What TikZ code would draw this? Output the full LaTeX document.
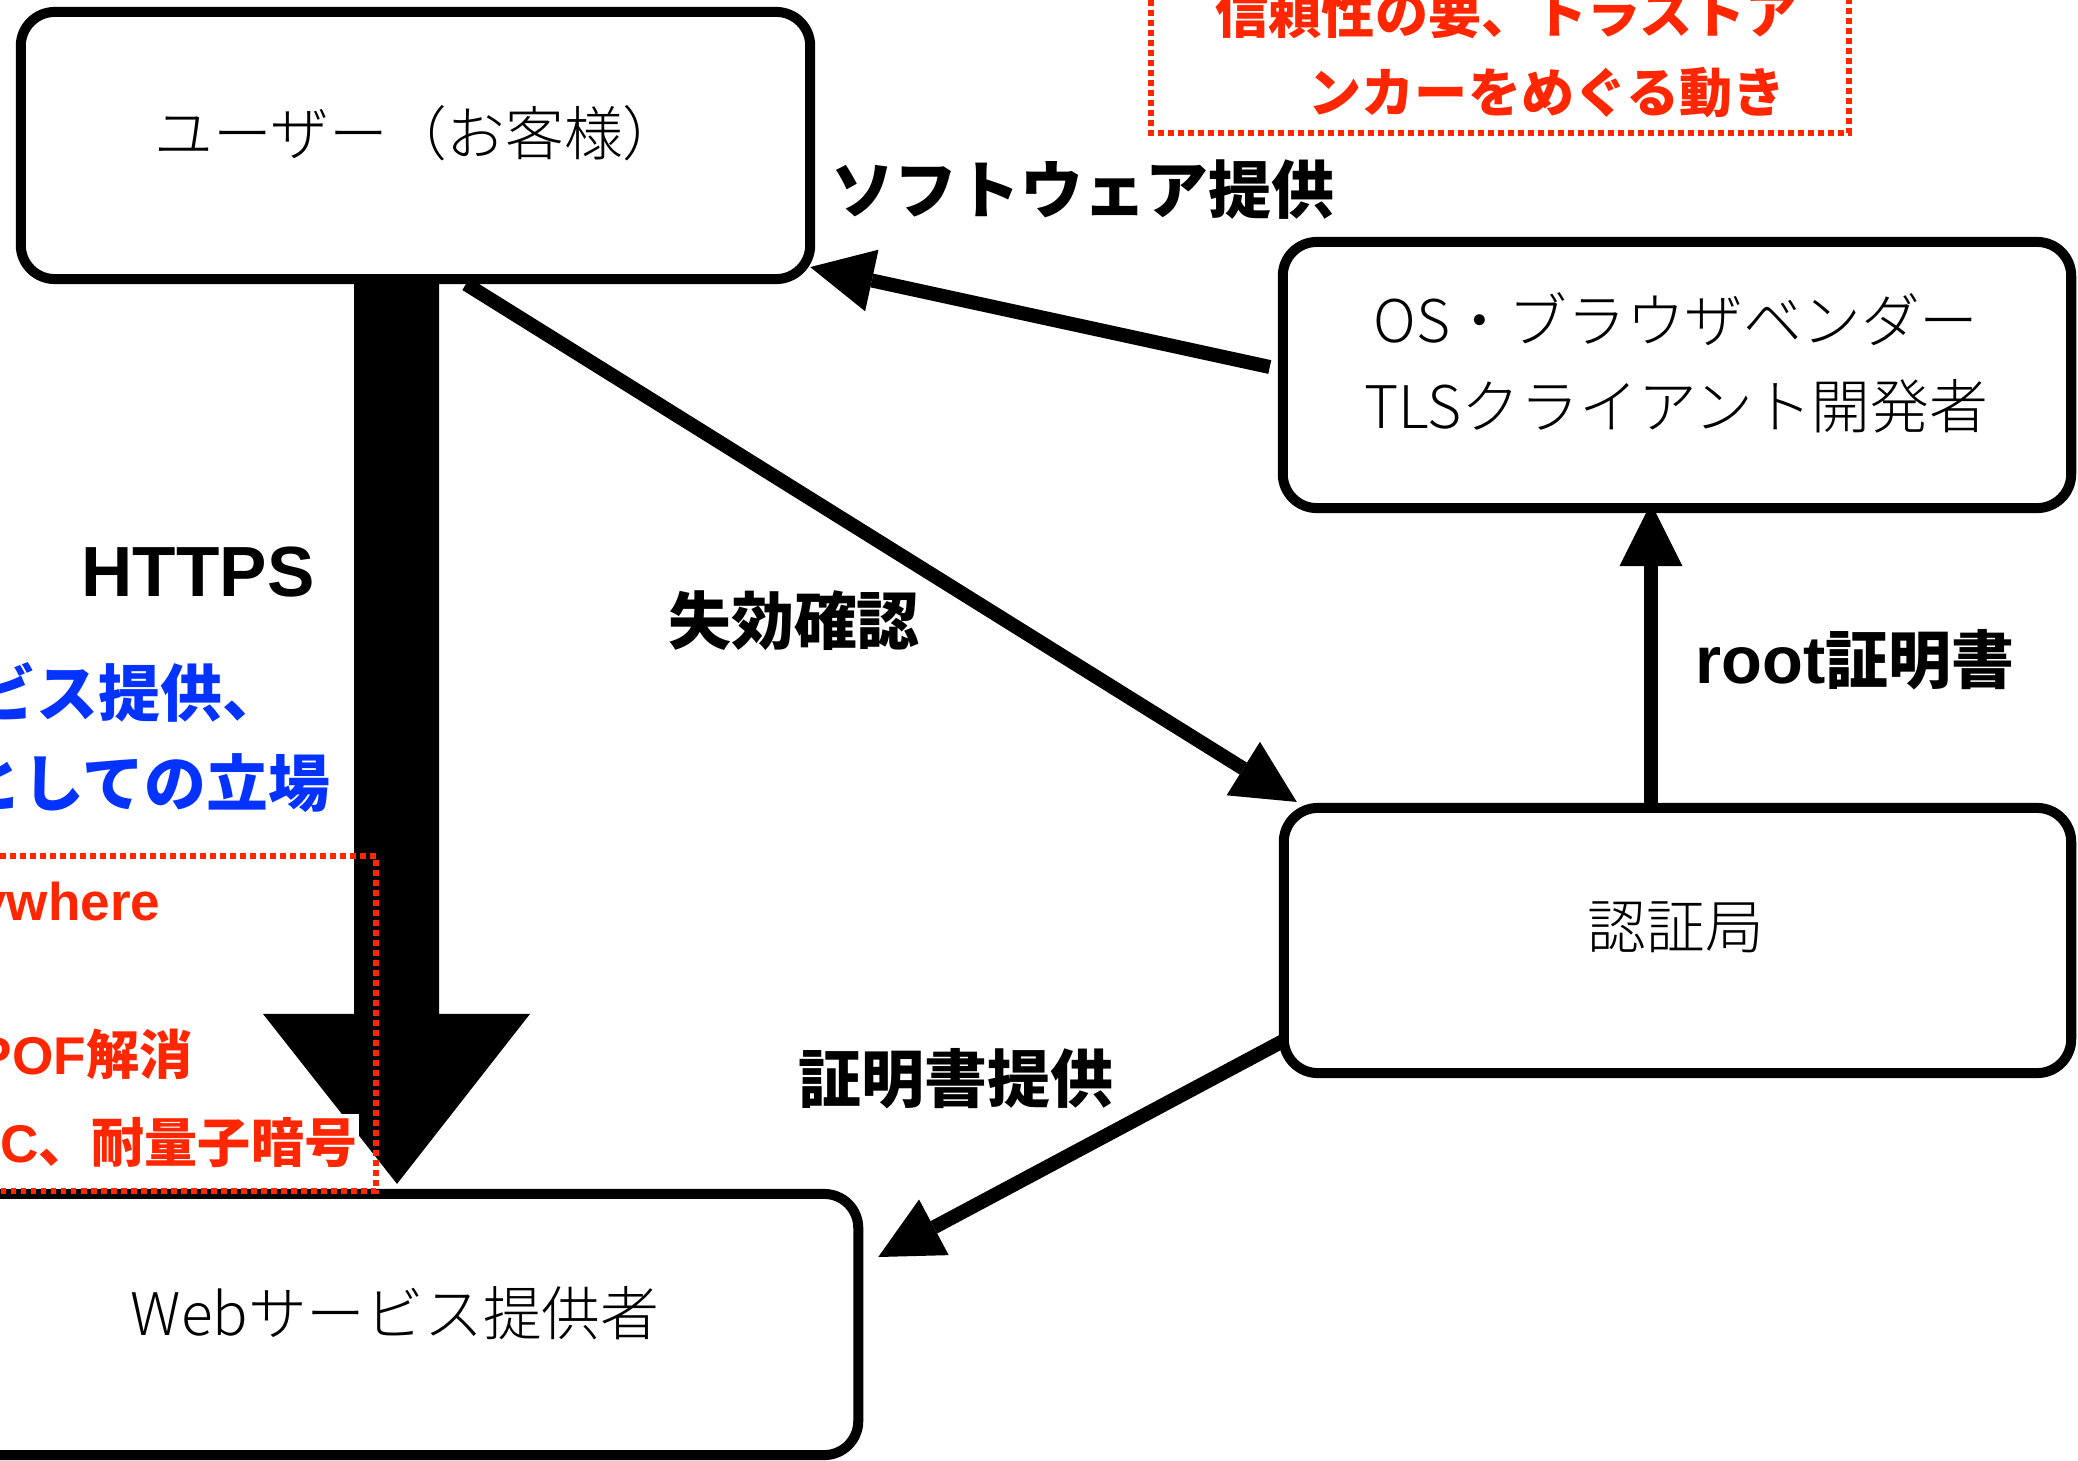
\documentclass[tikz,border=0pt]{standalone}
\usepackage{fontspec}
\newfontfamily\jp{Noto Sans CJK JP}
\newfontfamily\jpl{Noto Sans CJK JP Light}
\newfontfamily\hv{Liberation Sans}
\usetikzlibrary{arrows.meta,calc}
\definecolor{kred}{HTML}{FF2600}
\definecolor{kblue}{HTML}{0433FF}
\begin{document}
\begin{tikzpicture}[x=0.01cm,y=-0.01cm,
  box/.style={draw, line width=0.1cm, rounded corners=0.34cm, fill=white, outer sep=0pt, inner sep=0pt},
  boxtext/.style={font=\jpl\fontsize{16.7}{24.5}\selectfont, inner sep=0pt, align=center},
  lbl/.style={font=\jp\bfseries\fontsize{17.9}{20}\selectfont, inner sep=0pt},
  arr/.style={line width=0.14cm, -{Triangle[length=0.63cm,width=0.63cm,line width=0pt]}},
  reddot/.style={draw=kred, line width=0.055cm, dash pattern=on 0.055cm off 0.045cm},
  redtxt/.style={text=kred, font=\jp\bfseries\fontsize{15.1}{18}\selectfont, inner sep=0pt},
  bluetxt/.style={text=kblue, font=\jp\bfseries\fontsize{17.6}{20}\selectfont, inner sep=0pt}
]
\useasboundingbox (0,0) rectangle (2078,1460);
\fill[white] (0,0) rectangle (2078,1460);
\clip (0,0) rectangle (2078,1460);

% boxes
\node[box, minimum width=7.89cm, minimum height=2.67cm] (user) at (415.5,145.5) {};
\node[box, minimum width=7.88cm, minimum height=2.66cm] (os) at (1677,375) {};
\node[box, minimum width=7.87cm, minimum height=2.65cm] (ca) at (1677.5,940.5) {};
\node[box, minimum width=9.26cm, minimum height=2.61cm] (web) at (395,1324.5) {};

\node[boxtext] (userT) at (418,133) {ユーザー（お客様）};
\node[boxtext] (osT) at (1676,363) {OS・ブラウザベンダー\\TLSクライアント開発者};
\node[boxtext] (caT) at (1676,927) {認証局};
\node[boxtext] (webT) at (395,1313) {Webサービス提供者};

% big HTTPS arrow
\coordinate (hA) at ($(user.south)+(-19,0)$);
\coordinate (hB) at ($(web.north)+(2,-10)$);
\fill ($(hA)+(-42.5,0)$) -- ($(hA |- hB)+(-42.5,-170)$) -- ($(hB)+(-134,-170)$) -- (hB)
  -- ($(hB)+(133,-170)$) -- ($(hA |- hB)+(42.5,-170)$) -- ($(hA)+(42.5,0)$) -- cycle;

% connectors
\draw[arr] ($(os.west)+(-13,-8)$) -- ($(user.south east)+(0,-12)$);
\draw[arr] ($(user.south)+(50.5,5)$) -- ($(ca.north west)+(13,-6)$);
\draw[arr] ($(ca.north)+(-26.5,5)$) -- ($(os.south)+(-26,-5)$);
\draw[arr] ($(ca.south west)+(1,-33)$) -- ($(web.east)+(20,-67.5)$);

% labels
\node[lbl] (lSoft) at (1083,190) {ソフトウェア提供};
\node[lbl] (lRev) at (794,621) {失効確認};
\node[lbl] (lRoot) at (1855,660) {{\hv\fontsize{19}{20}\selectfont root}証明書};
\node[lbl] (lCert) at (956,1079) {証明書提供};
\node[font=\hv\bfseries\fontsize{20.2}{24}\selectfont, inner sep=0pt, anchor=base] (lHttps) at (198,596) {HTTPS};

% blue text
\node[bluetxt, anchor=east] (b1) at (285,692) {{\hv Web}サービス提供、};
\node[bluetxt, anchor=east] (b2) at (331,783) {事業者としての立場};

% red note bottom-left
\fill[white] (-10,1114) rectangle (359,1189);
\draw[reddot] (-50,856) -- (376,856) -- (376,1191) -- (-50,1191);
\node[redtxt, anchor=base east] (r1) at (161,920) {\hv TLS Everywhere};
\node[redtxt, anchor=east] (r2) at (193,1054) {{\hv SPOF}解消};
\node[redtxt, anchor=east] (r3) at (358,1143) {{\hv ECC}、耐量子暗号};

% red note top-right
\draw[reddot] (1151,-50) -- (1151,133) -- (1849,133) -- (1849,-50);
\node[redtxt, anchor=west] (t1) at (1215,13.5) {信頼性の要、トラストア};
\node[redtxt, anchor=west] (t2) at (1308,93) {ンカーをめぐる動き};
\end{tikzpicture}
\end{document}
